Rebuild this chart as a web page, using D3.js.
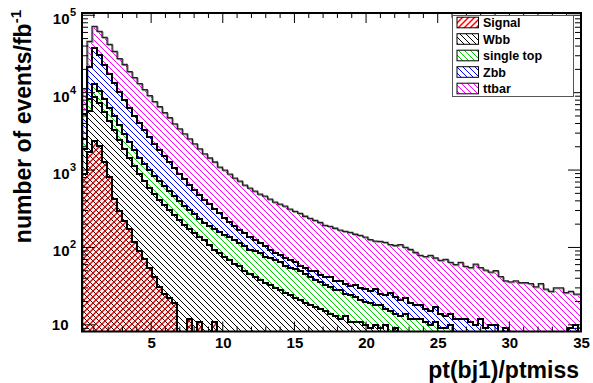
<!DOCTYPE html>
<html>
<head>
<meta charset="utf-8">
<script src="https://cdn.jsdelivr.net/npm/d3@7"></script>
<style>
  html, body { margin: 0; padding: 0; background: #fff; }
  svg { display: block; font-family: "Liberation Sans", Arial, Helvetica, sans-serif; font-weight: bold; }
</style>
</head>
<body>
<svg id="chart" width="593" height="383"></svg>
<script>
// Histogram binning of pt(bj1)/ptmiss
const binStart = 0.175;
const binWidth = 0.35;

// Events per bin (per fb^-1) for each process, in stacking order (bottom first)
const signal = [
  888, 1715, 2380, 2050, 1270, 811, 420, 294, 218, 171,
  116, 89, 70, 55, 41, 31, 25, 22, 19, 4,
  3, 12, 2, 11, 3, 0, 11, 0, 0, 0,
  0, 0, 0, 0, 0, 0, 0, 0, 0, 0,
  0, 0, 0, 0, 0, 0, 0, 0, 0, 0,
  0, 0, 0, 0, 0, 0, 0, 0, 0, 0,
  0, 0, 0, 0, 0, 0, 0, 0, 0, 0,
  0, 0, 0, 0, 0, 0, 0, 0, 0, 0,
  0, 0, 0, 0, 0, 0, 0, 0, 0, 0,
  0, 0, 0, 0, 0, 0, 0, 0, 0, 0
];
const wbb = [
  986, 4125, 6495, 5368, 4397, 3518, 2887, 2158, 1656, 1261,
  1011, 799, 650, 529, 447, 377, 326, 280, 241, 220,
  190, 159, 150, 124, 120, 106, 83, 84, 76, 68,
  62, 57, 50, 46, 42, 38, 35, 33, 30, 28,
  26, 24, 22, 21, 19, 18, 17, 16, 15, 14,
  13, 12, 13, 11, 11, 11, 10, 9, 10, 9,
  10, 6, 9, 5, 8, 4, 7, 3, 5, 2,
  4, 1, 1, 1, 1, 1, 0, 1, 0, 0,
  0, 0, 0, 0, 0, 0, 0, 0, 0, 0,
  0, 0, 0, 0, 0, 0, 0, 0, 0, 0
];
const singleTop = [
  653, 2517, 4215, 3202, 2690, 2057, 1719, 1388, 1061, 879,
  692, 544, 476, 416, 348, 312, 269, 232, 200, 172,
  148, 131, 116, 96, 85, 81, 77, 73, 67, 67,
  61, 56, 53, 48, 47, 46, 41, 39, 38, 36,
  32, 31, 30, 28, 26, 23, 21, 20, 18, 17,
  15, 16, 12, 13, 12, 10, 10, 10, 8, 9,
  6, 9, 5, 8, 6, 8, 5, 9, 6, 8,
  7, 8, 8, 9, 5, 3, 4, 2, 3, 2,
  2, 1, 2, 1, 1, 1, 0, 1, 0, 1,
  0, 1, 0, 0, 1, 0, 0, 0, 0, 0
];
const zbb = [
  2811, 13400, 24180, 19610, 14740, 11260, 8464, 6460, 5177, 4075,
  3207, 2645, 2111, 1683, 1340, 1099, 900, 736, 602, 492,
  423, 337, 282, 243, 203, 175, 141, 119, 95, 76,
  64, 53, 49, 41, 34, 29, 27, 22, 18, 17,
  16, 13, 12, 9, 10, 9, 11, 8, 9, 10,
  9, 9, 9, 8, 10, 9, 9, 8, 11, 7,
  8, 11, 9, 8, 8, 7, 6, 6, 5, 5,
  6, 5, 4, 4, 6, 8, 8, 8, 7, 10,
  7, 9, 8, 7, 8, 3, 3, 4, 2, 3,
  2, 3, 2, 2, 3, 2, 4, 9, 10, 3
];
const ttbar = [
  5930, 24200, 34700, 31700, 28700, 24400, 20600, 17300, 15000, 12350,
  10630, 9010, 7630, 6460, 5470, 4760, 3980, 3470, 2900, 2520,
  2170, 1890, 1630, 1400, 1206, 1070, 958, 818, 762, 677,
  600, 554, 487, 449, 411, 375, 357, 326, 298, 281,
  267, 244, 229, 218, 198, 188, 175, 166, 151, 146,
  140, 130, 127, 125, 115, 113, 107, 99, 92, 95,
  92, 83, 83, 88, 78, 75, 68, 61, 60, 64,
  56, 54, 57, 50, 48, 52, 45, 44, 51, 43,
  42, 38, 40, 34, 28, 32, 34, 30, 33, 30,
  29, 30, 27, 25, 26, 28, 22, 18, 15, 22
];

const processes = ["Signal", "Wbb", "single top", "Zbb", "ttbar"];
const hatchColors = ["rgb(255,0,0)", "rgb(0,0,0)", "rgb(0,204,0)", "rgb(0,0,255)", "rgb(255,0,255)"];
const hatchDirs = ["up", "down", "down", "down", "down"];

const xTickValues = [5, 10, 15, 20, 25, 30, 35];
const yDecadeExponents = [1, 2, 3, 4, 5];

const xMax = 35;
const yMin = 8.2, yMax = 1.07e5;

const svg = d3.select("#chart");
const frame = { l: 82, r: 581, t: 13, b: 331.5 };

const x = d3.scaleLinear().domain([binStart, xMax]).range([frame.l, frame.r]);
const y = d3.scaleLog().domain([yMin, yMax]).range([frame.b, frame.t]);

// ---------- hatch patterns ----------
const defs = svg.append("defs");
const hs = 6;
function hatchPath(dir) {
  return dir === "up"
    ? `M0,${hs} L${hs},0 M-1,1 L1,-1 M${hs - 1},${hs + 1} L${hs + 1},${hs - 1}`
    : `M0,0 L${hs},${hs} M-1,${hs - 1} L1,${hs + 1} M${hs - 1},-1 L${hs + 1},1`;
}
processes.forEach((p, k) => {
  const pat = defs.append("pattern")
    .attr("id", "hatch" + k)
    .attr("patternUnits", "userSpaceOnUse")
    .attr("width", hs).attr("height", hs);
  const path = pat.append("path")
    .attr("d", hatchPath(hatchDirs[k]))
    .style("stroke", hatchColors[k])
    .style("stroke-width", k === 0 ? 1.5 : 1)
    .style("fill", "none");
  if (k > 0) path.attr("shape-rendering", "crispEdges");
});
defs.append("clipPath").attr("id", "frameClip")
  .append("rect")
  .attr("x", frame.l).attr("y", frame.t)
  .attr("width", frame.r - frame.l).attr("height", frame.b - frame.t);

// ---------- stacked histograms ----------
const rows = signal.map((_, i) => ({
  "Signal": signal[i], "Wbb": wbb[i], "single top": singleTop[i], "Zbb": zbb[i], "ttbar": ttbar[i]
}));
const stacked = d3.stack().keys(processes)(rows);
const nBins = rows.length;
const edges = d3.range(nBins + 1).map(i => binStart + i * binWidth);

function stepPoints(layer) {
  const pts = [{ e: edges[0], v: yMin }];
  layer.forEach((d, i) => pts.push({ e: edges[i], v: d[1] }));
  pts.push({ e: edges[nBins], v: layer[nBins - 1][1] });
  pts.push({ e: edges[nBins], v: yMin });
  return pts;
}
const yv = v => y(Math.max(v, yMin));
const area = d3.area().x(d => x(d.e)).y0(frame.b).y1(d => yv(d.v)).curve(d3.curveStepAfter);
const line = d3.line().x(d => x(d.e)).y(d => yv(d.v)).curve(d3.curveStepAfter);

const plot = svg.append("g").attr("clip-path", "url(#frameClip)");
for (let k = processes.length - 1; k >= 0; k--) {
  const pts = stepPoints(stacked[k]);
  plot.append("path").attr("d", area(pts)).style("fill", `url(#hatch${k})`);
  if (k === processes.length - 1) {
    plot.append("path").attr("d", line(pts))
      .attr("transform", "translate(1,1)")
      .attr("fill", "none").attr("stroke", "#999").attr("stroke-width", 1.2);
    plot.append("path").attr("d", line(pts))
      .attr("fill", "none").attr("stroke", "#222").attr("stroke-width", 1.3);
  } else {
    plot.append("path").attr("d", line(pts))
      .attr("shape-rendering", "crispEdges")
      .attr("fill", "none").attr("stroke", "#000").attr("stroke-width", 2);
  }
}

// ---------- axes ----------
const axisG = svg.append("g").attr("stroke", "#000").attr("stroke-width", 1);
// x ticks: major on 5's, minor on integers, bottom and top
d3.range(1, 35).forEach(v => {
  const major = xTickValues.includes(v);
  const len = major ? 10 : 5;
  axisG.append("line").attr("x1", x(v)).attr("x2", x(v)).attr("y1", frame.b).attr("y2", frame.b - len);
  axisG.append("line").attr("x1", x(v)).attr("x2", x(v)).attr("y1", frame.t).attr("y2", frame.t + len);
});
// y ticks: decades major, 2..9 minor, left and right
const yMinor = [];
[0, 1, 2, 3, 4, 5].forEach(e => d3.range(2, 10).forEach(m => {
  const v = m * Math.pow(10, e);
  if (v > yMin && v < yMax) yMinor.push(v);
}));
yDecadeExponents.forEach(e => {
  const v = Math.pow(10, e);
  axisG.append("line").attr("x1", frame.l).attr("x2", frame.l + 13).attr("y1", y(v)).attr("y2", y(v));
  axisG.append("line").attr("x1", frame.r).attr("x2", frame.r - 13).attr("y1", y(v)).attr("y2", y(v));
});
yMinor.forEach(v => {
  axisG.append("line").attr("x1", frame.l).attr("x2", frame.l + 6).attr("y1", y(v)).attr("y2", y(v));
  axisG.append("line").attr("x1", frame.r).attr("x2", frame.r - 6).attr("y1", y(v)).attr("y2", y(v));
});

// frame
svg.append("rect")
  .attr("x", frame.l).attr("y", frame.t)
  .attr("width", frame.r - frame.l).attr("height", frame.b - frame.t)
  .attr("fill", "none").attr("stroke", "#000").attr("stroke-width", 2);

// x tick labels
const xAxis = d3.axisBottom(x).tickValues(xTickValues).tickSize(0).tickPadding(6).tickFormat(d3.format("d"));
const xg = svg.append("g").attr("transform", `translate(0,${frame.b})`).call(xAxis);
xg.select(".domain").remove();
xg.selectAll("text").attr("font-size", 15).attr("font-family", "Liberation Sans, Arial, sans-serif")
  .attr("font-weight", "bold").attr("fill", "#000");

// y tick labels (10, 10^2, ...)
yDecadeExponents.forEach(e => {
  const yy = y(Math.pow(10, e));
  const t = svg.append("text").attr("font-size", 15).attr("fill", "#000");
  if (e === 1) {
    t.attr("x", 68.5).attr("y", yy + 5.3).attr("text-anchor", "end").text("10");
  } else {
    svg.append("text").attr("font-size", 15).attr("x", 69.5).attr("y", yy + 9)
      .attr("text-anchor", "end").text("10");
    t.attr("font-size", 11).attr("x", 70).attr("y", yy + 1).text(String(e));
  }
});

// axis titles
svg.append("text")
  .attr("x", 579).attr("y", 378)
  .attr("text-anchor", "end").attr("font-size", 23)
  .text("pt(bj1)/ptmiss");

const yTitle = svg.append("text")
  .attr("transform", "translate(31,10) rotate(-90)")
  .attr("text-anchor", "end").attr("font-size", 23);
yTitle.append("tspan").text("number of events/fb");
yTitle.append("tspan").attr("font-size", 15).attr("dy", -10).text("-1");

// ---------- legend ----------
const leg = svg.append("g");
leg.append("rect")
  .attr("x", 452.5).attr("y", 15.5).attr("width", 121).attr("height", 81)
  .attr("fill", "#fff").attr("stroke", "#555").attr("stroke-width", 1);
processes.forEach((p, k) => {
  const cy = 22.5 + k * 16.5;
  leg.append("rect")
    .attr("x", 457).attr("y", cy - 5.3).attr("width", 21.5).attr("height", 10.6)
    .style("fill", `url(#hatch${k})`).attr("stroke", "#000").attr("stroke-width", 1);
  leg.append("text")
    .attr("x", 483).attr("y", cy + 4.5)
    .attr("font-size", 12.5).attr("fill", "#000")
    .text(p);
});
</script>
</body>
</html>
